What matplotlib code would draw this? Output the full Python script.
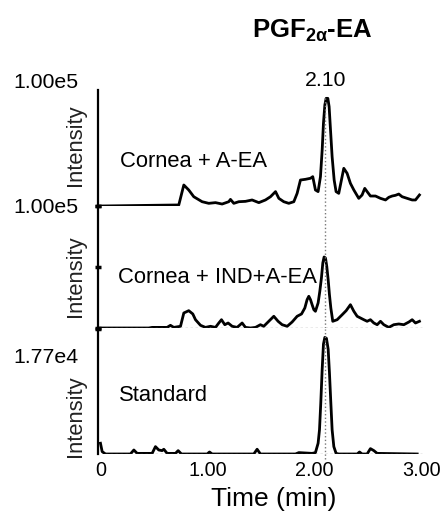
import numpy as np
import matplotlib.pyplot as plt

plt.rcParams['font.family'] = ['Liberation Sans', 'DejaVu Sans']
plt.rcParams['mathtext.fontset'] = 'custom'
plt.rcParams['mathtext.rm'] = 'Liberation Sans'
plt.rcParams['mathtext.it'] = 'Liberation Sans:italic'
plt.rcParams['mathtext.bf'] = 'Liberation Sans:bold'

W, H = 442, 512

# Cornea + A-EA  (time in min, intensity in counts x1000)
t_aea = [0.0, 0.732, 0.779, 0.825, 0.872, 0.950, 1.012, 1.075, 1.137, 1.199, 1.215,
         1.246, 1.293, 1.355, 1.417, 1.480, 1.542, 1.589, 1.636, 1.667, 1.713, 1.760,
         1.807, 1.838, 1.869, 1.916, 1.963, 1.984, 2.009, 2.034, 2.056, 2.072, 2.084,
         2.097, 2.109, 2.125, 2.137, 2.150, 2.165, 2.184, 2.202, 2.227, 2.252, 2.274,
         2.305, 2.336, 2.368, 2.414, 2.445, 2.470, 2.492, 2.523, 2.570, 2.617, 2.664,
         2.695, 2.726, 2.757, 2.788, 2.819, 2.866, 2.913, 2.944, 2.981]
i_aea = [0, 0.9, 18.1, 13.8, 8.0, 3.7, 2.3, 2.9, 1.7, 3.7, 5.7,
         2.3, 3.7, 4.0, 5.2, 2.9, 5.2, 8.0, 12.4, 6.6, 3.7, 2.3,
         3.7, 10.9, 22.4, 23.0, 23.9, 25.3, 13.8, 12.4, 25.3, 48.3, 71.3,
         87.1, 92.8, 92.8, 85.6, 65.5, 42.5, 22.4, 12.4, 10.9, 22.4, 32.5,
         28.2, 19.5, 13.8, 6.6, 9.5, 15.2, 12.4, 8.6, 8.6, 6.6, 5.2,
         7.5, 8.6, 9.2, 10.3, 8.0, 6.6, 5.2, 5.2, 9.5]

# Cornea + IND+A-EA
t_ind = [0.0, 0.452, 0.483, 0.623, 0.654, 0.685, 0.748, 0.779, 0.825, 0.863, 0.888,
         0.935, 0.981, 1.028, 1.075, 1.106, 1.131, 1.162, 1.193, 1.231, 1.277, 1.324,
         1.355, 1.402, 1.449, 1.495, 1.526, 1.573, 1.620, 1.660, 1.698, 1.745, 1.791,
         1.838, 1.879, 1.910, 1.931, 1.947, 1.963, 1.978, 1.994, 2.009, 2.034, 2.050,
         2.065, 2.078, 2.090, 2.103, 2.115, 2.128, 2.140, 2.153, 2.171, 2.212, 2.259,
         2.296, 2.336, 2.368, 2.399, 2.430, 2.461, 2.492, 2.523, 2.555, 2.586, 2.617,
         2.648, 2.695, 2.741, 2.788, 2.835, 2.882, 2.913, 2.944, 2.981]
i_ind = [0, 0, 0.5, 0.5, 2.2, 0.5, 1.4, 12.3, 14.2, 11.5, 6.8,
         2.2, 0.5, 1.4, 0.5, 4.1, 6.8, 2.7, 4.1, 1.4, 0.5, 4.1,
         0.5, 0, 0.5, 2.7, 1.4, 5.5, 9.6, 5.5, 2.7, 1.4, 4.9,
         9.6, 11.5, 16.4, 23.2, 26.0, 23.2, 19.1, 15.0, 13.7, 20.5, 30.1,
         41.0, 53.3, 58.2, 57.4, 50.5, 39.6, 27.3, 16.4, 5.5, 6.8, 10.9,
         14.2, 19.1, 13.7, 9.6, 8.2, 6.8, 5.5, 6.8, 4.1, 2.7, 5.5,
         2.7, 0.5, 2.7, 3.3, 2.7, 4.9, 6.8, 4.1, 5.5]

# Standard (counts)
t_std = [0.0, 0.016, 0.047, 0.280, 0.312, 0.343, 0.483, 0.514, 0.545, 0.576, 0.592,
         0.623, 0.701, 0.726, 0.757, 0.997, 1.019, 1.044, 1.433, 1.464, 1.495, 1.822,
         1.854, 1.978, 2.009, 2.034, 2.047, 2.059, 2.072, 2.084, 2.097, 2.112, 2.128,
         2.140, 2.153, 2.165, 2.181, 2.202, 2.227, 2.399, 2.421, 2.445, 2.492, 2.523,
         2.555, 2.586, 2.960]
i_std = [1522, 336, 0, 0, 566, 89, 89, 1044, 566, 478, 673,
         89, 89, 478, 0, 0, 283, 0, 0, 673, 0, 0,
         195, 89, 195, 1522, 3434, 7239, 11983, 15558, 16514, 16373, 14850,
         11523, 7239, 3434, 1044, 89, 0, 0, 283, 0, 0, 761,
         478, 89, 0]

rt_peak = 2.10
xticks = [0, 1, 2, 3]
xticklabels = ['0', '1.00', '2.00', '3.00']
full_scale = [1.00e5, 1.00e5, 1.77e4]

fig = plt.figure(figsize=(W / 100, H / 100), dpi=100)


def px_rect(top, bottom, left=98, right=425):
    return [left / W, 1 - bottom / H, (right - left) / W, (bottom - top) / H]


ax1 = fig.add_axes(px_rect(90, 206))
ax2 = fig.add_axes(px_rect(206, 328))
ax3 = fig.add_axes(px_rect(329, 454))
axes = [ax1, ax2, ax3]

ax1.plot(t_aea, np.array(i_aea) * 1000, color='black', lw=2.0, solid_joinstyle='round')
ax2.plot(t_ind, np.array(i_ind) * 1000, color='black', lw=2.0, solid_joinstyle='round')
ax3.plot(t_std, i_std, color='black', lw=2.0, solid_joinstyle='round')

for ax, top in zip(axes, full_scale):
    ax.set_xlim(-0.023, 3.033)
    ax.set_ylim(0, top)
    for s in ['top', 'right', 'bottom']:
        ax.spines[s].set_visible(False)
    ax.spines['left'].set_linewidth(1.6)
    ax.tick_params(axis='y', direction='inout', length=5, width=2.5, labelleft=False)
    ax.set_xticks([])
    ax.patch.set_visible(False)

ax1.set_yticks([0])
ax2.set_yticks([0, 0.5e5, 1e5])
ax3.set_yticks([1.77e4])

# baselines and retention-time marker
ax2.axhline(0, xmin=0.02, xmax=0.99, color='#666666', lw=0.9, ls=(0, (2, 2)))
ax3.axhline(0, xmin=0.02, xmax=0.99, color='#666666', lw=0.9, ls=(0, (2, 2)))
ax1.axvline(rt_peak, ymin=0, ymax=0.94, color='#777777', lw=1.0, ls=':')
ax2.axvline(rt_peak, color='#777777', lw=1.0, ls=':')
ax3.axvline(rt_peak, ymin=-0.04, ymax=1, color='#777777', lw=1.0, ls=':', clip_on=False)

ax3.set_xticks(xticks)
ax3.set_xticklabels(xticklabels, fontsize=14.3)
ax3.tick_params(axis='x', length=0, pad=5)


def ftext(x, y, s, **kw):
    fig.text(x / W, 1 - y / H, s, **kw)


ftext(312, 38, r'PGF$_{\mathbf{2\alpha}}$-EA', fontsize=18.5, fontweight='bold',
      ha='center', va='baseline')
ftext(326, 86, '2.10', fontsize=15.3, ha='center', va='baseline')
ftext(13, 88, '1.00e5', fontsize=15.3, ha='left', va='baseline')
ftext(13, 213, '1.00e5', fontsize=15.3, ha='left', va='baseline')
ftext(13, 363, '1.77e4', fontsize=15.3, ha='left', va='baseline')
ftext(120, 167, 'Cornea + A-EA', fontsize=15.8, ha='left', va='baseline')
ftext(118, 283, 'Cornea + IND+A-EA', fontsize=15.8, ha='left', va='baseline')
ftext(119, 401, 'Standard', fontsize=15.8, ha='left', va='baseline')
for yc in [145, 276, 416]:
    ftext(75, yc, 'Intensity', fontsize=15.8, rotation=90, ha='center', va='center',
          color='#222222')
ftext(274, 506, 'Time (min)', fontsize=19, ha='center', va='baseline')

fig.savefig('out.png', dpi=100)
